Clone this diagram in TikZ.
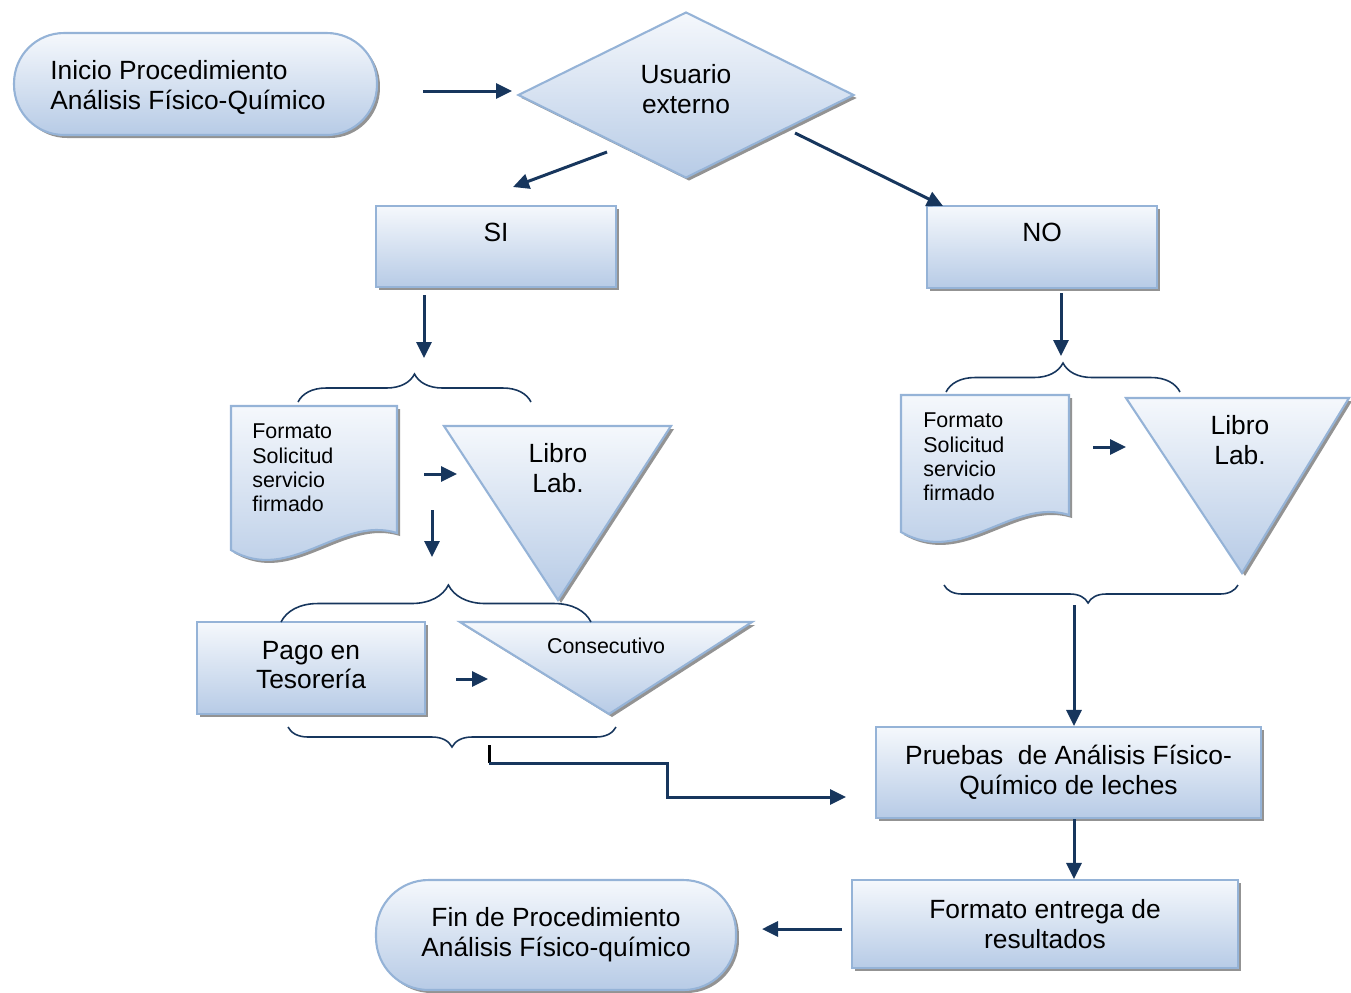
\documentclass[tikz,border=0pt]{standalone}
\usepackage{fontspec}
\setmainfont{Liberation Sans}
\usetikzlibrary{arrows.meta,positioning,calc,decorations.pathreplacing,shapes.geometric,shadows}
\definecolor{navy}{RGB}{23,54,93}
\definecolor{edgeblue}{RGB}{149,179,215}
\definecolor{softtop}{RGB}{245,248,252}
\definecolor{softbottom}{RGB}{183,203,230}
\definecolor{shadegray}{RGB}{135,135,135}

\begin{document}
\begin{tikzpicture}[x=0.02cm,y=-0.02cm,
    every node/.style={font=\fontsize{15}{17}\selectfont,align=center,inner sep=0pt},
    flowbox/.style={draw=edgeblue,line width=1.2pt,top color=softtop,bottom color=softbottom,
      drop shadow={shadow xshift=0.06cm,shadow yshift=-0.06cm,fill=shadegray,opacity=0.9}},
    flow/.style={draw=navy,line width=1.7pt,-{Triangle[length=0.32cm,width=0.3cm]}},
    curly/.style={draw=navy,line width=0.9pt,decorate,decoration={brace,amplitude=#1}},
    smalltxt/.style={font=\fontsize{12.2}{13.9}\selectfont}]
    \useasboundingbox (0,0) rectangle (1351,992);
    % shapes drawn as paths
    \path[flowbox] (231,406) -- (397,406) -- (397,533) .. controls (340,515) and (290,585) .. (231,550) -- cycle;
    \path[flowbox] (901,395) -- (1069,395) -- (1069,515) .. controls (1012,497) and (962,567) .. (901,532) -- cycle;
    \path[flowbox] (444,426) -- (671,426) -- (558,600) -- cycle;
    \path[flowbox] (460,622) -- (752,622) -- (609,714) -- cycle;
    \path[flowbox] (1126,398) -- (1349,398) -- (1242,573) -- cycle;
    % nodes
    \node[flowbox,rounded corners=1cm,minimum width=7.26cm,minimum height=2.04cm] (inicio) at (195.5,84) {};
    \node[align=left,anchor=west] (inicioTxt) at (50,87) {Inicio Procedimiento\\Análisis Físico-Químico};
    \node[flowbox,diamond,minimum width=6.72cm,minimum height=3.32cm] (usuario) at (686,95) {};
    \node (usuarioTxt) at (686,89) {Usuario\\externo};
    \node[flowbox,minimum width=4.8cm,text height=0.7cm,text depth=0.92cm] (si) at (496,246.5) {SI};
    \node[flowbox,minimum width=4.6cm,text height=0.7cm,text depth=0.94cm] (no) at (1042,247) {NO};
    \node[smalltxt,align=left,anchor=west] (docL) at (252,468) {Formato\\Solicitud\\servicio\\firmado};
    \node (libroL) at (558,468) {Libro\\Lab.};
    \node[flowbox,minimum width=4.56cm,minimum height=1.84cm] (pago) at (311,668) {};
    \node (pagoTxt) at (311,665) {Pago en\\Tesorería};
    \node[smalltxt] (consec) at (606,646) {Consecutivo};
    \node[smalltxt,align=left,anchor=west] (docR) at (923,457) {Formato\\Solicitud\\servicio\\firmado};
    \node (libroR) at (1240,440) {Libro\\Lab.};
    \node[flowbox,minimum width=7.7cm,minimum height=1.82cm] (pruebas) at (1068.5,772.5) {Pruebas\ \ de Análisis Físico-\\Químico de leches};
    \node[flowbox,minimum width=7.72cm,minimum height=1.76cm] (entrega) at (1045,924) {Formato entrega de\\resultados};
    \node[flowbox,rounded corners=1.05cm,minimum width=7.2cm,minimum height=2.2cm] (fin) at (556,935) {Fin de Procedimiento\\Análisis Físico-químico};
    % braces
    \draw[curly=0.56cm] (298,402) -- (531,402);
    \draw[curly=0.74cm,decoration={aspect=0.54}] (281,622) -- (591,622);
    \draw[curly=0.4cm] (616,727) -- (288,727);
    \draw[curly=0.58cm] (946,392) -- (1180,392);
    \draw[curly=0.36cm,decoration={aspect=0.51}] (1238,585) -- (944,585);
    % free ends of the connectors
    \coordinate (inOut) at (423,91);
    \coordinate (usIn) at (512,91);
    \coordinate (siOut) at (607,152);
    \coordinate (siIn) at (513,187);
    \coordinate (noOut) at (795,133);
    \coordinate (noIn) at (943,206);
    \coordinate (siDown) at (424,295);
    \coordinate (siGrp) at (424,358);
    \coordinate (noDown) at (1061,293);
    \coordinate (noGrp) at (1061,356);
    \coordinate (docLOut) at (424,474);
    \coordinate (libLIn) at (457,474);
    \coordinate (docLDown) at (432,510);
    \coordinate (pagoGrp) at (432,557);
    \coordinate (pagoOut) at (456,679);
    \coordinate (consIn) at (488,679);
    \coordinate (docROut) at (1093,447);
    \coordinate (libRIn) at (1126,447);
    \coordinate (tipR) at (1074,605);
    \coordinate (tipL) at (489,745);
    \coordinate (bendL) at (489,763);
    \coordinate (prIn) at (846,797);
    % connectors
    \draw[flow] (inOut) -- (usIn);
    \draw[flow] (siOut) -- (siIn);
    \draw[flow] (noOut) -- (noIn);
    \draw[flow] (siDown) -- (siGrp);
    \draw[flow] (noDown) -- (noGrp);
    \draw[flow] (docLOut) -- (libLIn);
    \draw[flow] (docLDown) -- (pagoGrp);
    \draw[flow] (pagoOut) -- (consIn);
    \draw[flow] (docROut) -- (libRIn);
    \draw[flow] (tipR) -- (tipR |- pruebas.north);
    \draw[flow] (tipR |- pruebas.south) -- (tipR |- entrega.north);
    \draw[flow,shorten <=0.18cm,shorten >=0.5cm] ([yshift=-0.1cm]entrega.west) -- ([yshift=-0.1cm]entrega.west -| fin.east);
    \draw[black,line width=1.7pt] (tipL) -- (bendL);
    \draw[flow] (bendL) -| ($(bendL)!.5!(prIn)$) |- (prIn);
  \end{tikzpicture}
\end{document}
